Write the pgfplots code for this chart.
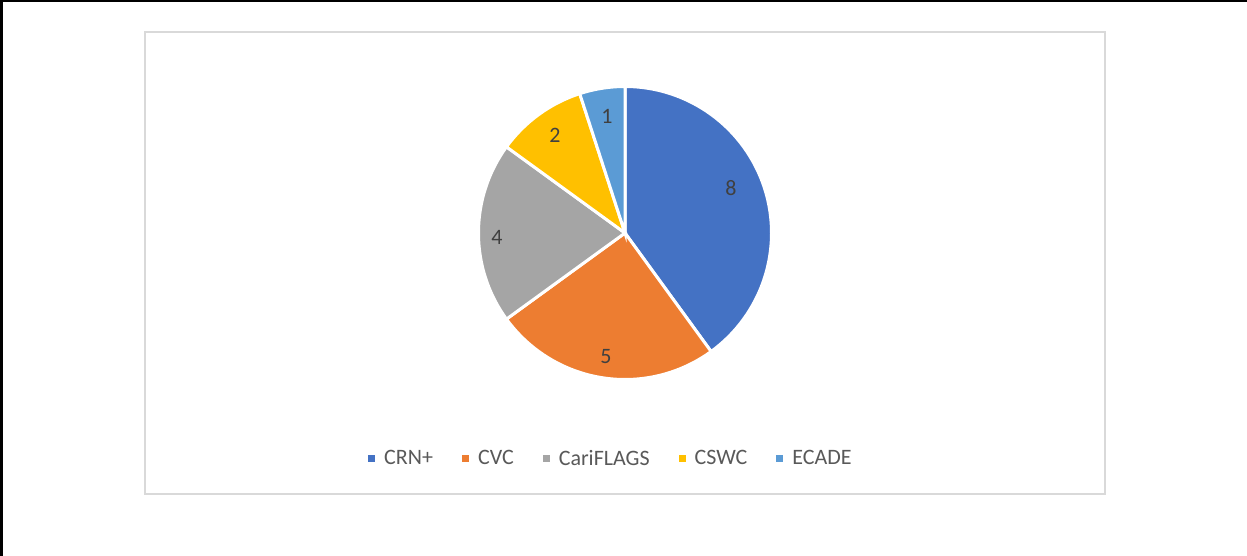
\documentclass[border=0pt]{standalone}
\usepackage{fontspec}
\setmainfont{Carlito}
\usepackage{pgfplots}
\pgfplotsset{compat=1.18}
\definecolor{cA}{HTML}{4472C4}
\definecolor{cB}{HTML}{ED7D31}
\definecolor{cC}{HTML}{A5A5A5}
\definecolor{cD}{HTML}{FFC000}
\definecolor{cE}{HTML}{5B9BD5}
\definecolor{legtext}{HTML}{595959}
\definecolor{labtext}{HTML}{404040}
\definecolor{frame}{HTML}{D9D9D9}
% slice: #1 = cumulative value before, #2 = value, #3 = colour, #4 = name ; total = 20
\newcommand{\slice}[4]{%
  \addplot[fill=#3, draw=white, line width=3bp, domain=90-18*(#1+#2):90-18*#1, samples=100]
    ({cos(x)},{sin(x)}) -- (0,0) -- cycle;
  \addlegendentry{#4}}
\begin{document}
\begin{tikzpicture}
\path[use as bounding box] (0bp,0bp) rectangle (1247bp,556bp);
\fill[white] (0bp,0bp) rectangle (1247bp,556bp);
\draw[line width=2.5bp, black] (1.25bp,0bp) -- (1.25bp,554.75bp) -- (1247bp,554.75bp);
\draw[line width=1.5bp, frame] (145bp,62bp) rectangle (1105bp,524bp);
\begin{axis}[
  at={(625bp,323bp)}, anchor=center,
  width=293bp, height=293bp, scale only axis,
  xmin=-1, xmax=1, ymin=-1, ymax=1,
  hide axis, clip=false,
  legend columns=5,
  legend style={at={(0.452,-0.269)}, anchor=center, draw=none, fill=none,
    font=\fontsize{22bp}{26bp}\selectfont, text=legtext,
    /tikz/every even column/.append style={column sep=27bp},
    /tikz/every odd column/.append style={column sep=7bp}},
  legend image code/.code={\fill[#1,draw=none] (0bp,-3.5bp) rectangle (7bp,3.5bp);},
]
\slice{0}{8}{cA}{CRN+}
\slice{8}{5}{cB}{CVC}
\slice{13}{4}{cC}{CariFLAGS}
\slice{17}{2}{cD}{CSWC}
\slice{19}{1}{cE}{ECADE}
\begin{scope}[every node/.style={font=\fontsize{22bp}{26bp}\selectfont, text=labtext}]
\node at (axis cs:0.724,0.307) {8};
\node at (axis cs:-0.130,-0.846) {5};
\node at (axis cs:-0.874,-0.027) {4};
\node at (axis cs:-0.478,0.669) {2};
\node at (axis cs:-0.123,0.799) {1};
\end{scope}
\end{axis}
\end{tikzpicture}
\end{document}
